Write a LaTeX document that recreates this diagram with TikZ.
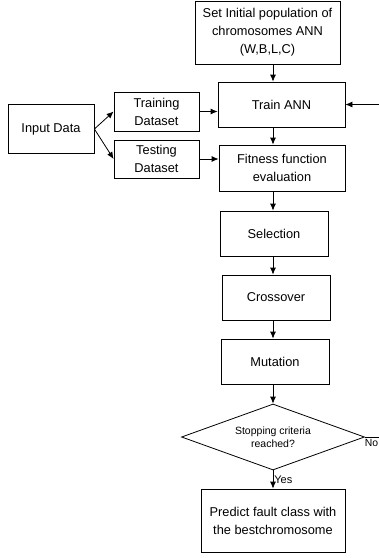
\documentclass[tikz,border=0pt]{standalone}
\usepackage{fontspec}
\setmainfont{Liberation Sans}
\usetikzlibrary{arrows.meta,shapes.geometric}
\begin{document}
\begin{tikzpicture}[x=1pt,y=-1pt,
  box/.style={draw,line width=0.8pt,align=center,inner sep=2pt,
    font=\fontsize{12.8}{18}\selectfont},
  arr/.style={-{Latex[length=7pt,width=6pt]},line width=0.8pt}]
  \useasboundingbox (0,0) rectangle (379,558);
  \clip (0,0) rectangle (379,558);
  % Draw boxes
  \node[box,minimum width=145pt,minimum height=63pt] (init) at (267.5,32.5)
        {Set Initial population of\\chromosomes ANN\\(W,B,L,C)};
  \node[box,minimum width=127pt,minimum height=45pt] (train) at (281.5,104.5)
        {Train ANN};
  \node[box,minimum width=86pt,minimum height=49pt] (input) at (51,129)
        {Input Data};
  \node[box,minimum width=85pt,minimum height=39pt] (training) at (156.5,111.5)
        {Training\\Dataset};
  \node[box,minimum width=85pt,minimum height=38pt] (testing) at (156.5,159)
        {Testing\\Dataset};
  \node[box,minimum width=126pt,minimum height=46pt] (fitness) at (282,168)
        {Fitness function\\evaluation};
  \node[box,minimum width=108pt,minimum height=45pt] (select) at (274,233.5)
        {Selection};
  \node[box,minimum width=108pt,minimum height=45pt] (cross) at (276,297.5)
        {Crossover};
  \node[box,minimum width=108pt,minimum height=45pt] (mutate) at (275,361.5)
        {Mutation};
  \node[draw,diamond,aspect=2.77,line width=0.8pt,inner sep=0pt,
        minimum width=183pt,minimum height=66pt,align=center,
        font=\fontsize{10.5}{13}\selectfont]
        (stop) at (273,437) {Stopping criteria\\reached?};
  \node[box,minimum width=144pt,minimum height=63pt] (predict) at (273,520.5)
        {Predict fault class with\\the bestchromosome};
  \coordinate (col) at (273,0);
  % Draw main flow
  \draw[arr] (init.south -| col) -- (train.north -| col);
  \draw[arr] (train.south -| col) -- (fitness.north -| col);
  \draw[arr] (fitness.south -| col) -- (select.north -| col);
  \draw[arr] (select.south -| col) -- (cross.north -| col);
  \draw[arr] (cross.south -| col) -- (mutate.north -| col);
  \draw[arr] (mutate.south -| col) -- (stop.north);
  \draw[arr] (stop.south) -- (predict.north -| col)
        node[midway,right,inner sep=1pt,font=\fontsize{11}{13}\selectfont] {Yes};
  % Draw data split
  \draw[arr] (input.east) -- (training.west);
  \draw[arr] (input.east) -- (testing.west);
  \draw[arr] (training.east) -- (training.east -| train.west);
  \draw[arr] (testing.east) -- (testing.east -| fitness.west);
  % Draw loop back
  \draw[arr] (stop.east) node[below right,inner sep=0pt,xshift=-0.5pt,yshift=-2pt,
        font=\fontsize{10.4}{13}\selectfont] {No}
        -- ++(30,0) |- (train.east);
\end{tikzpicture}
\end{document}
